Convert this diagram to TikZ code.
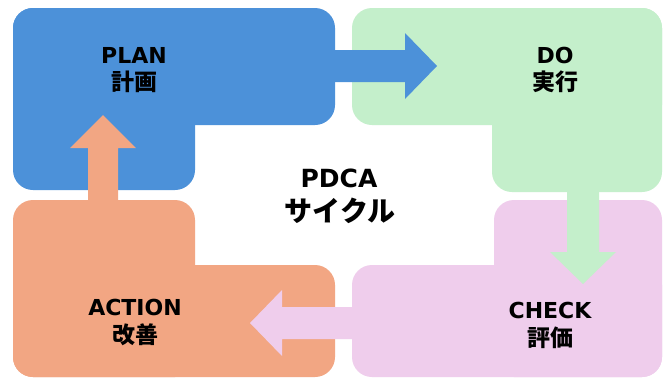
\documentclass[tikz,border=0pt]{standalone}
\usepackage{fontspec}
\setmainfont{DejaVu Sans}
\newfontfamily\jp{Noto Sans CJK JP}
\definecolor{planblue}{HTML}{4C91D9}
\definecolor{dogreen}{HTML}{C4EFCB}
\definecolor{checkpink}{HTML}{EFCDEC}
\definecolor{actorange}{HTML}{F2A683}
\begin{document}
\begin{tikzpicture}[x=1pt,y=-1pt,
  blk/.style={rounded corners=20pt},
  lat/.style={font=\fontsize{22}{26}\selectfont\bfseries, anchor=base, inner sep=0pt},
  cjk/.style={font=\fontsize{23}{27}\jp\bfseries, anchor=center, inner sep=0pt},
  big/.style={font=\fontsize{25}{30}\selectfont\bfseries, anchor=base, inner sep=0pt},
  bigjp/.style={font=\fontsize{28}{32}\jp\bfseries, anchor=center, inner sep=0pt}]
\useasboundingbox[fill=white] (0,0) rectangle (664,378);
% PLAN box
\fill[planblue,blk] (13,8) rectangle (335,125);
\fill[planblue,blk] (13,8) rectangle (195,190);
% DO box
\fill[dogreen,blk] (352,8) rectangle (662,125);
\fill[dogreen,blk] (492,8) rectangle (662,192);
% CHECK box
\fill[checkpink,blk] (494,200) rectangle (662,377);
\fill[checkpink,blk] (352,265) rectangle (662,377);
% ACTION box
\fill[actorange,blk] (13,200) rectangle (195,377);
\fill[actorange,blk] (13,265) rectangle (335,377);
% arrows
\fill[planblue] (300,50) -- (405,50) -- (405,33) -- (437,66) -- (405,99) -- (405,82) -- (300,82) -- cycle;
\fill[dogreen] (567,170) -- (567,252) -- (550,252) -- (583,284) -- (616,252) -- (599,252) -- (599,170) -- cycle;
\fill[checkpink] (380,307) -- (282,307) -- (282,290) -- (250,323) -- (282,356) -- (282,339) -- (380,339) -- cycle;
\fill[actorange] (88,230) -- (88,148) -- (70,148) -- (103,115) -- (136,148) -- (118,148) -- (118,230) -- cycle;
% labels
\node[lat] (plan) at (134,63) {PLAN};
\node[cjk] (planj) at (134,82) {計画};
\node[lat] (do) at (555,63) {DO};
\node[cjk] (doj) at (555,82) {実行};
\node[lat] (check) at (550,318) {CHECK};
\node[cjk] (checkj) at (550,338) {評価};
\node[lat] (action) at (135,315) {ACTION};
\node[cjk] (actionj) at (135,335) {改善};
\node[big] (pdca) at (339,187) {PDCA};
\node[bigjp] (cycle) at (340,211) {サイクル};
\end{tikzpicture}
\end{document}
